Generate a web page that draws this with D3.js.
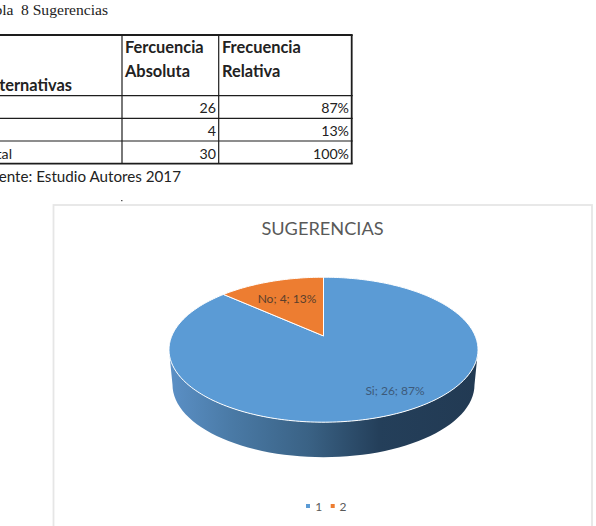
<!DOCTYPE html>
<html>
<head>
<meta charset="utf-8">
<script src="https://cdn.jsdelivr.net/npm/d3@7/dist/d3.min.js"></script>
<style>
html,body{margin:0;padding:0;background:#fff;overflow:hidden}
svg{display:block}
text{font-family:Lato,"Open Sans",sans-serif}
</style>
</head>
<body>
<svg id="page" width="596" height="526"></svg>
<script>
// Survey results
const categories = ["Si", "No"];
const counts = [26, 4];
const shares = [87, 13];
const totalCount = 30;
const totalShare = 100;
const legendKeys = ["1", "2"];
const sliceColors = ["#5b9bd5", "#ed7d31"];

const svg = d3.select("#page");

// ---- Caption and table ----
const captionStyle = sel => sel.style("font-family", '"Liberation Serif",serif')
  .style("font-size", "15.6px").attr("fill", "#222");
captionStyle(svg.append("text").attr("x", 13.5).attr("y", 14.5).attr("text-anchor", "end").text("Tabla"));
captionStyle(svg.append("text").attr("x", 21).attr("y", 14.5).text("8 Sugerencias"));

const rowLines = [35, 95.7, 118.3, 141, 163.7];
const colLines = [122, 218.7, 351.7];
const ink = "#1d1d1d";
const tableRows = [
  [categories[0], counts[0], shares[0] + "%"],
  [categories[1], counts[1], shares[1] + "%"],
  ["Total", totalCount, totalShare + "%"]
];

const table = svg.append("g");
rowLines.forEach((y, i) => table.append("line")
  .attr("x1", 0).attr("x2", colLines[2] + 1).attr("y1", y).attr("y2", y)
  .attr("stroke", ink).attr("stroke-width", (i === 0 || i === 4) ? 1.8 : 1.2));
colLines.forEach((x, i) => table.append("line")
  .attr("x1", x).attr("x2", x).attr("y1", rowLines[0]).attr("y2", rowLines[4])
  .attr("stroke", ink).attr("stroke-width", i === 2 ? 1.8 : 1.2));

const headStyle = sel => sel.style("font-size", "16.4px").style("font-weight", 700).attr("fill", "#222");
headStyle(table.append("text").attr("x", 72).attr("y", 90.7).attr("text-anchor", "end").text("Alternativas"));
headStyle(table.append("text").attr("x", 125).attr("y", 53.3).text("Fercuencia"));
headStyle(table.append("text").attr("x", 125).attr("y", 77.3).text("Absoluta"));
headStyle(table.append("text").attr("x", 222).attr("y", 53.3).text("Frecuencia"));
headStyle(table.append("text").attr("x", 222).attr("y", 77.3).text("Relativa"));

const firstCellEnd = [-6, -2, 12];   // the first column runs off the page's left edge
tableRows.forEach((r, i) => {
  const y = rowLines[i + 1] + 17.5;
  const cell = (x, anchor, t) => table.append("text").attr("x", x).attr("y", y)
    .attr("text-anchor", anchor).style("font-size", "14.2px").attr("fill", "#222").text(t);
  cell(firstCellEnd[i], "end", r[0]);
  cell(216, "end", r[1]);
  cell(349, "end", r[2]);
});

svg.append("text").attr("x", 181).attr("y", 182).attr("text-anchor", "end")
  .style("font-size", "15.2px").attr("fill", "#222").text("Fuente: Estudio Autores 2017");
svg.append("rect").attr("x", 121).attr("y", 200).attr("width", 1.5).attr("height", 1.2).attr("fill", "#555");

// ---- Chart frame ----
svg.append("rect").attr("x", 53.5).attr("y", 205).attr("width", 538.5).attr("height", 340)
  .attr("fill", "#fff").attr("stroke", "#e6e6e6").attr("stroke-width", 1.8);

svg.append("text").attr("x", 322.5).attr("y", 235).attr("text-anchor", "middle")
  .style("font-size", "18.2px").attr("fill", "#595959").text("SUGERENCIAS");

// ---- 3D pie ----
const cx = 323.5, cy = 349.7, rx = 154.5, ry = 72.5;  // rim of the top face
const depth = 35, sideRx = 151;
const apexLift = 0.19;                                 // perspective shift of the pie centre

// Perspective map of the unit disc: turns a plane angle into a point on screen
function project(r, angle) {
  const u = r * Math.sin(angle), v = r * Math.cos(angle);
  const k = 1 + apexLift * v;
  const x = u * Math.sqrt(1 - apexLift * apexLift) / k;
  const y = (v + apexLift) / k;
  return [cx + rx * x, cy - ry * y];
}

const defs = svg.append("defs");
const grad = defs.append("linearGradient").attr("id", "sideShade")
  .attr("gradientUnits", "userSpaceOnUse")
  .attr("x1", cx - rx).attr("x2", cx + rx).attr("y1", 0).attr("y2", 0);
[[0, "#5b90c6"], [0.2, "#4a7aa6"], [0.45, "#3a6285"], [0.68, "#243f5a"], [1, "#223a53"]]
  .forEach(([o, c]) => grad.append("stop").attr("offset", o).attr("stop-color", c));

// Wall: top-face half outline joined to the lower rim
const sweep = d3.range(0, 181, 3).map(d => d * Math.PI / 180);
const wallPts = sweep.map(a => [cx + rx * Math.cos(a), cy + ry * Math.sin(a)])
  .concat(sweep.slice().reverse().map(a => [cx + sideRx * Math.cos(a), cy + depth + ry * Math.sin(a)]));
const outline = d3.line().curve(d3.curveLinearClosed);
svg.append("path").attr("d", outline(wallPts)).attr("fill", "url(#sideShade)");

// Top face slices
const pie = d3.pie().sort(null);
const arcs = pie(counts);
const slicePath = d => {
  const n = Math.ceil((d.endAngle - d.startAngle) / 0.02);
  const pts = d3.range(n + 1).map(i => project(1, d.startAngle + (d.endAngle - d.startAngle) * i / n));
  return outline([project(0, 0), ...pts]);
};
svg.append("g").selectAll("path").data(arcs).join("path")
  .attr("d", slicePath)
  .attr("fill", (d, i) => sliceColors[i])
  .attr("stroke", "#fff").attr("stroke-width", 1).attr("stroke-linejoin", "round");

// Data labels
const labelPos = [[395, 395], [287, 302.5]];
const labelInk = ["#3d5a7a", "#5a3f2c"];
categories.forEach((c, i) => {
  svg.append("text").attr("x", labelPos[i][0]).attr("y", labelPos[i][1]).attr("text-anchor", "middle")
    .style("font-size", "12px").attr("fill", labelInk[i])
    .text(`${c}; ${counts[i]}; ${shares[i]}%`);
});

// Legend
const legendSwatch = [306, 330.7], legendLabel = [318.7, 343];
legendKeys.forEach((k, i) => {
  svg.append("rect").attr("x", legendSwatch[i]).attr("y", 504).attr("width", 4).attr("height", 4)
    .attr("fill", sliceColors[i]);
  svg.append("text").attr("x", legendLabel[i]).attr("y", 510.5).attr("text-anchor", "middle")
    .style("font-size", "12px").attr("fill", "#595959").text(k);
});
</script>
</body>
</html>
